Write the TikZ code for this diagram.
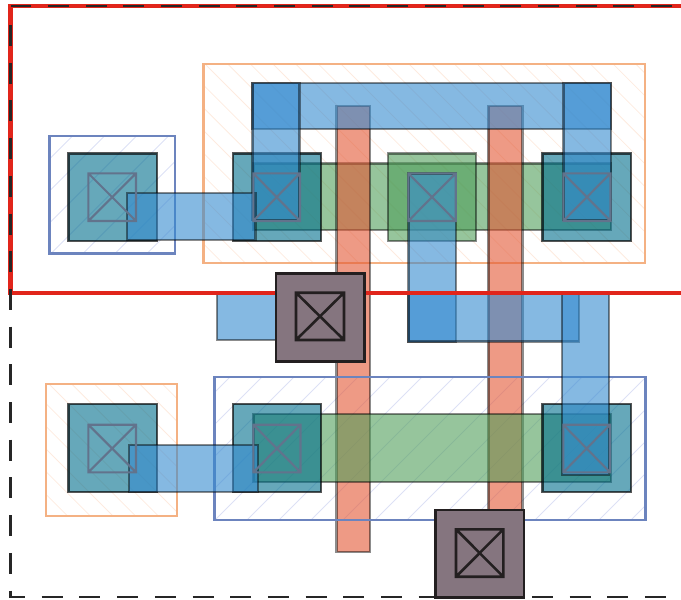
\documentclass[tikz,border=0pt]{standalone}
\definecolor{redbox}{HTML}{E1251B}
\definecolor{bluewell}{HTML}{6C84BE}
\definecolor{orangewell}{HTML}{F4B183}
\definecolor{bluehatch}{HTML}{DDE1F5}
\definecolor{orangehatch}{HTML}{FDEBDF}
\definecolor{metalblue}{HTML}{348ACF}
\definecolor{polyred}{HTML}{E35734}
\definecolor{diffgreen}{HTML}{509E5A}
\definecolor{activeteal}{HTML}{006E8C}
\definecolor{cutgrey}{HTML}{62738C}
\definecolor{padgrey}{HTML}{85757F}
\definecolor{padblack}{HTML}{231F20}
\tikzset{
	well/.style={line width=2.2pt},
	layer/.style={line width=2.4pt, draw=black, draw opacity=.45, fill opacity=.6},
	metalone/.style={layer, fill=metalblue},
	polysi/.style={layer, fill=polyred},
	diffusion/.style={layer, fill=diffgreen},
	activesq/.style={layer, fill=activeteal, draw opacity=.66},
	cutbox/.style={line width=2.1pt, draw=cutgrey},
	padsq/.style={line width=2.6pt, draw=padblack, fill=padgrey},
	padcut/.style={line width=2.6pt, draw=padblack}
}
% contact cut: box with a cross
\newcommand{\cutx}[5]{\draw[#1] (#2,#3) rectangle (#4,#5) (#2,#3) -- (#4,#5) (#2,#5) -- (#4,#3);}
\begin{document}
\begin{tikzpicture}[x=1pt,y=-1pt]
	\useasboundingbox (0,0) rectangle (681,600);
	% wells: hatching first, outline on top
	\begin{scope}
		\clip (49.5,136) rectangle (175,253.5);
		\foreach \c in {176.5,208.5,...,432.5}
			\draw[bluehatch, line width=.8pt] (\c-136,136) -- (\c-254,254);
	\end{scope}
	\draw[well, draw=bluewell] (49.5,136) rectangle (175,253.5);
	\begin{scope}
		\clip (214.5,377) rectangle (645.5,520);
		\foreach \c in {607,639,...,1183}
			\draw[bluehatch, line width=.8pt] (\c-377,377) -- (\c-520,520);
	\end{scope}
	\begin{scope}
		\clip (203.5,64) rectangle (645,263);
		\foreach \c in {-63,-40.33,...,594}
			\draw[orangehatch, line width=.8pt] (\c+64,64) -- (\c+263,263);
	\end{scope}
	\draw[well, draw=orangewell] (203.5,64) rectangle (645,263);
	\begin{scope}
		\clip (46,384.3) rectangle (177,516.3);
		\foreach \c in {-471,-448.33,...,-199}
			\draw[orangehatch, line width=.8pt] (\c+384,384) -- (\c+517,517);
	\end{scope}
	\draw[well, draw=orangewell] (46,384.3) rectangle (177,516.3);
	% diffusion and poly
	\draw[diffusion] (253.3,163.3) rectangle (610.7,230);
	\draw[diffusion] (387.7,153.3) rectangle (476,240.7);
	\draw[polysi] (336.5,106) rectangle (370,552);
	\draw[polysi] (488.3,106) rectangle (522.3,530);
	\draw[diffusion] (253.3,414) rectangle (610.7,481.7);
	% bottom well outline runs over poly and diffusion
	\draw[well, draw=bluewell] (214.5,377) rectangle (645.5,520);
	% active squares
	\draw[activesq] (68.3,153.3) rectangle (156.7,240.7);
	\draw[activesq] (232.7,153.3) rectangle (321,240.7);
	\draw[activesq] (542.3,153.3) rectangle (631,240.7);
	\draw[activesq] (68.3,404) rectangle (156.7,491.7);
	\draw[activesq] (232.7,404) rectangle (321,491.7);
	\draw[activesq] (542.3,404) rectangle (631,491.7);
	% metal
	\draw[metalone] (252.3,83) rectangle (610.7,128.7);
	\draw[metalone] (252.3,83) rectangle (299.5,220);
	\draw[metalone] (563.3,83) rectangle (610.7,220);
	\draw[metalone] (127,193) rectangle (255.3,240);
	\draw[metalone] (129,445) rectangle (257.7,491.7);
	\draw[metalone] (408.3,173.3) rectangle (455.7,342);
	\draw[metalone] (408.3,294) rectangle (579,341.5);
	\draw[metalone] (561.7,294) rectangle (608.7,475);
	\draw[metalone] (217,294) rectangle (344,340);
	% contact cuts
	\cutx{cutbox}{88.3}{173.3}{136}{221}
	\cutx{cutbox}{253.3}{173.3}{300}{221}
	\cutx{cutbox}{408.3}{173.3}{455.7}{221}
	\cutx{cutbox}{563.3}{173.3}{610.5}{221}
	\cutx{cutbox}{88.3}{424.7}{136}{472.3}
	\cutx{cutbox}{253.3}{424.7}{300.5}{472.3}
	\cutx{cutbox}{563.3}{424.7}{610}{472.3}
	% cell outline
	\draw[redbox, line width=4.2pt] (681,6) -- (10.5,6) -- (10.5,293) -- (681,293);
	\draw[black!85, line width=2.4pt, dash pattern=on 21pt off 16.7pt, dash phase=28.7pt] (681,6) -- (10.5,6);
	\draw[black!85, line width=2.4pt, dash pattern=on 21pt off 16.7pt] (10.5,25) -- (10.5,597) -- (681,597);
	% poly pads
	\draw[padsq] (276,273.3) rectangle (364.3,361.5);
	\cutx{padcut}{296}{292.7}{344}{340}
	\draw[padsq] (435.7,510) rectangle (524,597.7);
	\cutx{padcut}{456}{529.3}{503.3}{576.7}
\end{tikzpicture}
\end{document}
